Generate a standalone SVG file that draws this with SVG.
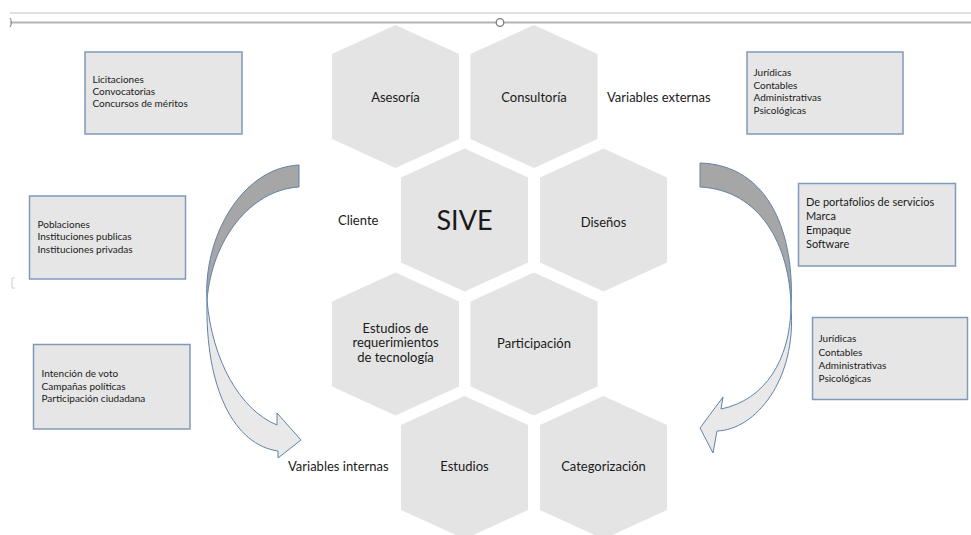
<svg xmlns="http://www.w3.org/2000/svg" width="971" height="535" viewBox="0 0 971 535">
<style>
.hex{fill:#e4e4e4}
.hl{font-family:Lato,"Liberation Sans",sans-serif;font-size:13px;fill:#1a1a1a;text-anchor:middle}
.lbl{font-family:Lato,"Liberation Sans",sans-serif;font-size:13px;fill:#1a1a1a}
.box{fill:#e6e6e6;stroke:#7f9bbb;stroke-width:1.5}
.bt{font-family:Lato,"Liberation Sans",sans-serif;font-size:10px;fill:#1a1a1a}
.bt2{font-family:Lato,"Liberation Sans",sans-serif;font-size:11px;fill:#1a1a1a}
.dark{fill:#a6a6a6;stroke:#5f83a8;stroke-width:1}
.light{fill:#e9e9e9;stroke:#5f83a8;stroke-width:1}
</style>
<defs>
<polygon id="hexshape" points="0,-71.5 63.5,-42.5 63.5,42.5 0,71.5 -63.5,42.5 -63.5,-42.5"/>
</defs>
<rect width="971" height="535" fill="#ffffff"/>
<g id="topbar">
<line x1="10" y1="13" x2="971" y2="13" stroke="#d4d4d4" stroke-width="1.5"/>
<line x1="10" y1="22.5" x2="971" y2="22.5" stroke="#b4b4b4" stroke-width="2"/>
<path d="M10 18 Q13 22.5 10 27" fill="none" stroke="#999" stroke-width="1.2"/>
<circle cx="500" cy="22.5" r="3.8" fill="#fff" stroke="#7f7f7f" stroke-width="1.3"/>
<path d="M15 278 L12 278 L12 288 L15 288" fill="none" stroke="#d0d0d0" stroke-width="1"/>
</g>
<g id="hex-asesoria"><use href="#hexshape" class="hex" x="395.5" y="96.5"/><text class="hl" x="395.5" y="101.5">Asesoría</text></g>
<g id="hex-consultoria"><use href="#hexshape" class="hex" x="534" y="96.5"/><text class="hl" x="534" y="101.5">Consultoría</text></g>
<g id="hex-sive"><use href="#hexshape" class="hex" x="464.5" y="220"/><text class="hl" x="464.5" y="229.5" style="font-size:27px">SIVE</text></g>
<g id="hex-disenos"><use href="#hexshape" class="hex" x="603.5" y="220"/><text class="hl" x="603.5" y="227">Diseños</text></g>
<g id="hex-estudios-req"><use href="#hexshape" class="hex" x="395.5" y="344"/><text class="hl" x="395.5" y="332.5">Estudios de</text><text class="hl" x="395.5" y="347">requerimientos</text><text class="hl" x="395.5" y="361.5">de tecnología</text></g>
<g id="hex-participacion"><use href="#hexshape" class="hex" x="534" y="344"/><text class="hl" x="534" y="347.5">Participación</text></g>
<g id="hex-estudios"><use href="#hexshape" class="hex" x="464.5" y="467.5"/><text class="hl" x="464.5" y="470.5">Estudios</text></g>
<g id="hex-categorizacion"><use href="#hexshape" class="hex" x="603.5" y="467.5"/><text class="hl" x="603.5" y="470.5">Categorización</text></g>
<g id="label-externas"><text class="lbl" x="607" y="101.5">Variables externas</text></g>
<g id="label-cliente"><text class="lbl" x="338" y="224.5">Cliente</text></g>
<g id="label-internas"><text class="lbl" x="288" y="470.5">Variables internas</text></g>
<g id="box-licitaciones"><rect class="box" x="85" y="52" width="157" height="82"/><text class="bt" x="92.5" y="82.5">Licitaciones</text><text class="bt" x="92.5" y="94.5">Convocatorias</text><text class="bt" x="92.5" y="106.5">Concursos de méritos</text></g>
<g id="box-externas"><rect class="box" x="747" y="52" width="156" height="82"/><text class="bt" x="753.5" y="76">Jurídicas</text><text class="bt" x="753.5" y="88.5">Contables</text><text class="bt" x="753.5" y="101">Administrativas</text><text class="bt" x="753.5" y="113.5">Psicológicas</text></g>
<g id="box-poblaciones"><rect class="box" x="29.5" y="196" width="156" height="83"/><text class="bt" x="37.5" y="227.5">Poblaciones</text><text class="bt" x="37.5" y="240">Instituciones publicas</text><text class="bt" x="37.5" y="252.5">Instituciones privadas</text></g>
<g id="box-disenos"><rect class="box" x="798.5" y="183.5" width="157" height="82.5"/><text class="bt2" x="806" y="206">De portafolios de servicios</text><text class="bt2" x="806" y="220">Marca</text><text class="bt2" x="806" y="234">Empaque</text><text class="bt2" x="806" y="248">Software</text></g>
<g id="box-voto"><rect class="box" x="33.5" y="344.5" width="156.5" height="84.5"/><text class="bt" x="41.5" y="377">Intención de voto</text><text class="bt" x="41.5" y="389.5">Campañas políticas</text><text class="bt" x="41.5" y="402">Participación ciudadana</text></g>
<g id="box-internas"><rect class="box" x="812.5" y="317.5" width="155" height="82"/><text class="bt" x="818.5" y="342">Jurídicas</text><text class="bt" x="818.5" y="355.5">Contables</text><text class="bt" x="818.5" y="369">Administrativas</text><text class="bt" x="818.5" y="382">Psicológicas</text></g>
<g id="connectors">
<g id="arrow-left">
<path class="dark" d="M299 165 L299 187 C250 190 212 240 207 300 C203 240 240 168 299 165 Z"/>
<path class="light" d="M207 300 C212 360 240 410 277 425 L277 413 L301 440 L278 458 L278 451 C235 445 205 390 207 300 Z"/>
</g>
<g id="arrow-right">
<path class="dark" d="M700 163 L700 187 C760 190 790 245 791 307 C795 235 770 165 700 163 Z"/>
<path class="light" d="M791 307 C790 360 765 400 721 409 L723 397 L700 428 L713 453 L717 431 C755 430 797 380 791 307 Z"/>
</g>
</g>
</svg>
